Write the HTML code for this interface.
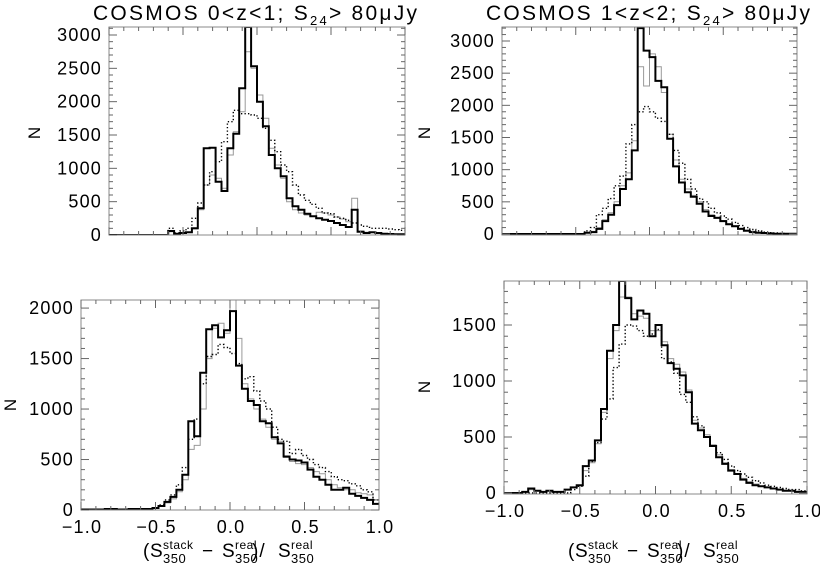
<!DOCTYPE html>
<html><head><meta charset="utf-8"><style>
body{margin:0;background:#fff}
svg{display:block;font-family:"Liberation Sans",sans-serif}
</style></head><body>
<svg id="fig" width="820" height="565" viewBox="0 0 820 565"></svg>
<script>
const binEdges = [-1, 1];
const nBins = 50;
// Panel 1: COSMOS 0<z<1 top
const p1Solid = [0,0,0,0,0,0,0,0,0,0,60,20,30,40,100,400,1300,1310,800,660,1300,1520,2200,3150,2530,2000,1630,1200,1000,880,550,430,380,320,280,250,230,210,180,150,120,380,50,30,40,30,20,15,10,10];
const p1Gray  = [0,0,0,0,0,0,0,0,0,0,50,20,30,40,90,380,750,900,850,700,1200,1550,1850,2750,2500,2100,1750,1300,1050,850,500,380,330,300,280,340,330,300,270,240,200,550,60,40,40,30,20,15,10,10];
const p1Dot   = [0,0,0,0,0,0,0,0,0,0,100,30,60,100,250,480,750,950,1100,1400,1700,1870,1820,1820,1800,1750,1600,1420,1250,1050,950,750,600,520,460,400,330,320,270,250,220,180,150,130,100,100,100,90,80,70];
// Panel 2: COSMOS 1<z<2 top
const p2Solid = [0,0,0,0,0,0,0,0,0,0,0,0,0,0,20,30,80,200,300,450,700,850,1300,3200,2850,2750,2380,2280,1480,1050,800,650,580,470,350,280,250,200,150,120,80,50,30,20,15,10,5,5,5,5];
const p2Gray  = [0,0,0,0,0,0,0,0,0,0,0,0,0,0,20,40,100,220,330,500,750,950,1450,2600,2300,2800,2600,2200,1550,1150,850,700,600,500,380,300,260,210,160,130,90,60,40,25,15,10,5,5,5,5];
const p2Dot   = [0,0,0,0,0,0,0,0,0,0,0,0,0,0,50,100,300,400,550,750,900,1400,1700,1900,1980,1900,1800,1750,1550,1300,1100,850,700,550,500,400,330,280,230,180,130,100,70,50,30,20,15,10,5,5];
// Panel 3: bottom-left
const p3Solid = [5,5,5,5,10,10,5,5,10,10,10,10,20,40,80,130,200,350,880,730,1360,1790,1830,1710,1780,1970,1430,1200,1080,1040,880,860,720,660,530,500,490,470,400,330,300,250,200,200,220,160,140,120,100,60];
const p3Gray  = [5,5,5,5,10,10,5,5,10,10,10,10,20,40,70,110,180,300,600,640,1000,1500,1800,1850,1750,2080,1700,1250,1100,1000,900,820,700,680,520,480,460,450,420,380,360,300,250,220,200,200,170,160,150,100];
const p3Dot   = [5,5,5,5,10,10,5,5,10,10,10,10,20,50,100,150,250,420,700,900,1250,1520,1540,1640,1610,1550,1450,1300,1320,1180,1080,1000,820,700,680,560,600,540,500,450,420,380,330,300,290,260,240,200,180,100];
// Panel 4: bottom-right
const p4Solid = [0,0,0,10,40,20,10,20,10,10,30,50,70,240,290,470,750,1270,1500,1920,1740,1550,1630,1600,1400,1500,1320,1160,1110,1050,900,620,560,500,420,320,260,200,170,120,90,70,60,50,40,30,20,20,10,10];
const p4Gray  = [0,0,0,10,30,20,10,20,10,10,30,50,70,200,270,440,720,1200,1450,1750,1750,1600,1580,1560,1450,1450,1350,1200,1150,1080,920,650,580,520,430,340,270,210,170,130,100,80,60,50,40,30,25,20,15,10];
const p4Dot   = [0,0,0,0,0,0,0,0,0,0,0,30,60,150,280,450,660,840,1120,1330,1500,1490,1450,1400,1420,1460,1200,1170,1070,880,810,680,600,500,420,360,300,240,200,170,140,110,90,70,60,50,40,30,30,20];
const yTicks1 = [0,500,1000,1500,2000,2500,3000];
const yTicks4 = [0,500,1000,1500];
const xTickLabels = ["\u22121.0","\u22120.5","0.0","0.5","1.0"];
const xTickVals = [-1,-0.5,0,0.5,1];

const NS="http://www.w3.org/2000/svg";
const svg=document.getElementById('fig');
function mk(tag,attrs,parent){const e=document.createElementNS(NS,tag);for(const k in attrs)e.setAttribute(k,attrs[k]);(parent||svg).appendChild(e);return e;}

function axisTitle(g,cx,y){
  const t=mk('g',{},g);
  
  
  const parts=[
    [-87,0,'(',19],[-80,0,'S',19],[-67,-8,'stack',12],[-67,6,'350',13],
    [-28,0,'\u2212',19],[-8,0,'S',19],[5,-8,'real',12],[5,6,'350',13],
    [22,0,')/',19],[48,0,'S',19],[61,-8,'real',12],[61,6,'350',13]];
  parts.forEach(p=>{const e=mk('text',{x:cx+p[0],y:y+p[1],'font-size':p[3],'letter-spacing':p[3]>15?1:0.5},t);e.textContent=p[2];});
}

function panel(cfg){
  const g=mk('g',{});
  
  
  const {L,R,T,B,y0,ymax}=cfg;
  const xs=v=>L+(v-binEdges[0])/(binEdges[1]-binEdges[0])*(R-L);
  const ys=v=>Math.max(T,y0-(v/ymax)*(y0-T));
  const clip='c'+cfg.name;
  const cp=mk('clipPath',{id:clip},g);mk('rect',{x:L,y:T,width:R-L,height:B-T},cp);
  function series(arr,style,nm){
    const w=(binEdges[1]-binEdges[0])/nBins;
    let d='';
    arr.forEach((v,i)=>{const xa=xs(binEdges[0]+i*w),xb=xs(binEdges[0]+(i+1)*w),y=ys(v);d+=(i?'L':'M')+xa.toFixed(1)+' '+y.toFixed(1)+'L'+xb.toFixed(1)+' '+y.toFixed(1);});
    const p=mk('path',Object.assign({d:d,fill:'none','clip-path':'url(#'+clip+')'},style),g);
    
    
  }
  series(cfg.gray,{stroke:'#999','stroke-width':1},'histogram-gray');
  series(cfg.dot,{stroke:'#000','stroke-width':1.4,'stroke-dasharray':'1.3,2.2'},'histogram-dotted');
  series(cfg.solid,{stroke:'#000','stroke-width':2},'histogram-solid');
  const fr=mk('rect',{x:L,y:T,width:R-L,height:B-T,fill:'none',stroke:'#888','stroke-width':1},g);
  
  
  for(let k=0;k<=20;k++){const v=-1+k*0.1,x=xs(v),len=(k%5==0)?8:4;
    mk('line',{x1:x,x2:x,y1:B,y2:B-len,stroke:'#666','stroke-width':1},g);
    mk('line',{x1:x,x2:x,y1:T,y2:T+len,stroke:'#666','stroke-width':1},g);}
  if(cfg.xlabels){xTickVals.forEach((v,i)=>{const t=mk('text',{x:xs(v)+1,y:B+23,'font-size':18,'letter-spacing':1.2,'text-anchor':'middle'},g);t.textContent=xTickLabels[i];
    
    });
    axisTitle(g,cfg.atx,557);
  }
  for(let v=0;v<=ymax;v+=100){const y=ys(v),len=(v%500==0)?8:4;
    mk('line',{x1:L,x2:L+len,y1:y,y2:y,stroke:'#666','stroke-width':1},g);
    mk('line',{x1:R,x2:R-len,y1:y,y2:y,stroke:'#666','stroke-width':1},g);}
  cfg.yticks.forEach(v=>{const t=mk('text',{x:L-7,y:ys(v)+6,'font-size':18,'letter-spacing':1.2,'text-anchor':'end'},g);t.textContent=v;
    
    });
  const n=mk('text',{x:cfg.nx,y:cfg.ny,'font-size':17,'text-anchor':'middle',transform:'rotate(-90 '+cfg.nx+' '+cfg.ny+')'},g);n.textContent='N';
  
  
  if(cfg.title){const t=mk('text',{x:cfg.tx,y:20,'font-size':21,textLength:324,lengthAdjust:'spacing'},g);
    
    
    t.innerHTML=cfg.title+'; S<tspan font-size="13" dy="5">24</tspan><tspan dy="-5">&gt; 80\u03bcJy</tspan>';}
}
panel({name:'panel-low-z-top',L:109,R:405,T:27,B:235,y0:235,ymax:3120,solid:p1Solid,gray:p1Gray,dot:p1Dot,yticks:yTicks1,nx:40,ny:133,title:'COSMOS&#160;0&lt;z&lt;1',tx:93});
panel({name:'panel-high-z-top',L:502,R:797,T:27,B:235,y0:234,ymax:3000*(234-27)/(234-41),solid:p2Solid,gray:p2Gray,dot:p2Dot,yticks:yTicks1,nx:430,ny:133,title:'COSMOS&#160;1&lt;z&lt;2',tx:486});
panel({name:'panel-low-z-bottom',L:81,R:379,T:300,B:510,y0:510,ymax:2080,solid:p3Solid,gray:p3Gray,dot:p3Dot,yticks:[0,500,1000,1500,2000],nx:16,ny:405,xlabels:true,atx:230});
panel({name:'panel-high-z-bottom',L:504,R:807,T:281,B:494,y0:493,ymax:1893,solid:p4Solid,gray:p4Gray,dot:p4Dot,yticks:yTicks4,nx:430,ny:387,xlabels:true,atx:655});
</script>
</body></html>
